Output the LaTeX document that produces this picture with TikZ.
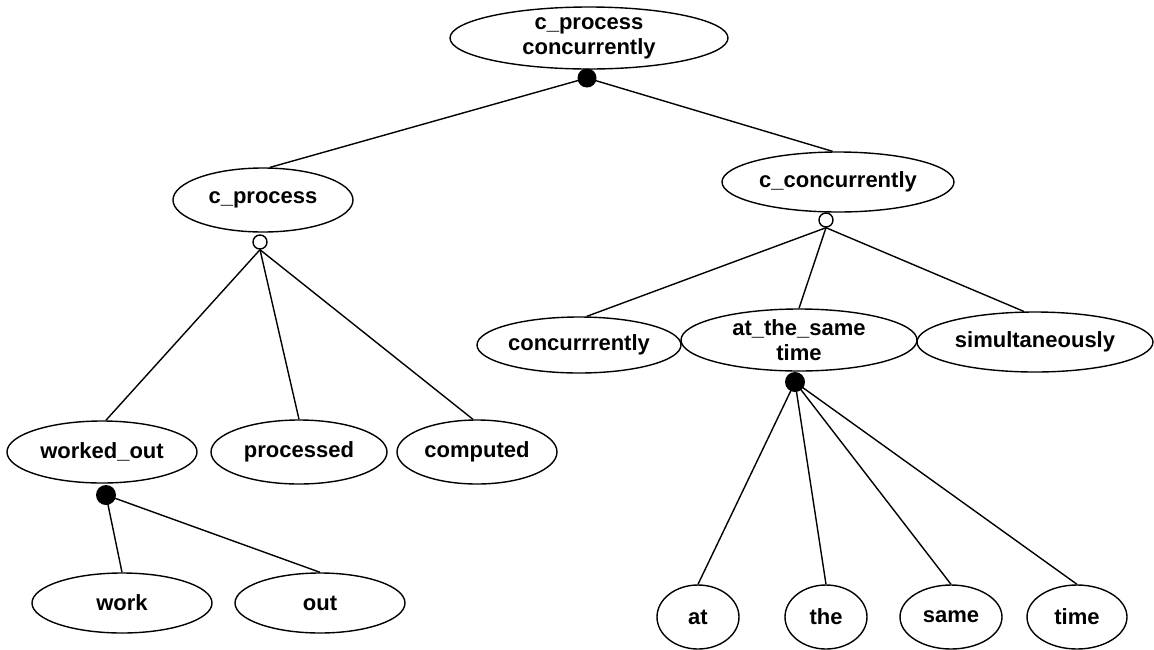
\documentclass[tikz,border=0pt]{standalone}
\usepackage{fontspec}
\setmainfont{Liberation Sans}
\usetikzlibrary{shapes.geometric}
\begin{document}
\begin{tikzpicture}[x=1pt,y=-1pt,
  term/.style={ellipse, draw, line width=1.4pt, inner sep=0pt, fill=white,
    font=\bfseries\fontsize{22}{25}\selectfont, align=center},
  andnode/.style={circle, fill=black, inner sep=0pt, minimum size=19pt},
  ornode/.style={circle, draw, line width=1.4pt, fill=white, inner sep=0pt, minimum size=14pt},
  link/.style={line width=1.4pt}]
\useasboundingbox[fill=white] (0,0) rectangle (1154,649);

% concept nodes
\node[term, minimum width=278pt, minimum height=62pt] (top) at (589,38) {c\_process\\concurrently};
\node[term, minimum width=180pt, minimum height=64pt] (cp) at (263,200) {c\_process};
\node[term, minimum width=232pt, minimum height=60pt] (cc) at (838,182) {c\_concurrently};
\node[term, minimum width=204pt, minimum height=56pt] (conc) at (579,345) {concurrrently};
\node[term, minimum width=236pt, minimum height=62pt] (ats) at (799,340) {at\_the\_same\\time};
\node[term, minimum width=236pt, minimum height=60pt] (sim) at (1035,342) {simultaneously};
\node[term, minimum width=190pt, minimum height=62pt] (wo) at (102,452) {worked\_out};
\node[term, minimum width=176pt, minimum height=64pt] (proc) at (299,452) {processed};
\node[term, minimum width=160pt, minimum height=64pt] (comp) at (477,452) {computed};
\node[term, minimum width=180pt, minimum height=60pt] (work) at (122,603) {work};
\node[term, minimum width=170pt, minimum height=60pt] (out) at (320,603) {out};
\node[term, minimum width=82pt, minimum height=64pt] (at) at (698,617) {at};
\node[term, minimum width=82pt, minimum height=64pt] (the) at (826,617) {the};
\node[term, minimum width=102pt, minimum height=64pt] (same) at (951,617) {same};
\node[term, minimum width=100pt, minimum height=64pt] (time) at (1077,617) {time};

% junction markers
\node[andnode] (d0) at (587,78) {};
\node[ornode] (o1) at (260,242) {};
\node[ornode] (o2) at (826,220) {};
\node[andnode, minimum size=20pt] (d3) at (795,382) {};
\node[andnode, minimum size=20pt] (d4) at (106,495) {};

% connectors
\draw[link] (d0.center) -- (cp.78);
\draw[link] (d0.center) -- (cc.100);
\draw[link] (o1.south) -- (wo.83);
\draw[link] (o1.south) -- (proc.north);
\draw[link] (o1.south) -- (comp.97);
\draw[link] (o2.south) -- (conc.75);
\draw[link] (o2.south) -- (ats.north);
\draw[link] (o2.south) -- (sim.110);
\draw[link] (d3.center) -- (at.north);
\draw[link] (d3.center) -- (the.north);
\draw[link] (d3.center) -- (same.north);
\draw[link] (d3.center) -- (time.north);
\draw[link] (d4.center) -- (work.north);
\draw[link] (d4.center) -- (out.north);
\end{tikzpicture}
\end{document}
